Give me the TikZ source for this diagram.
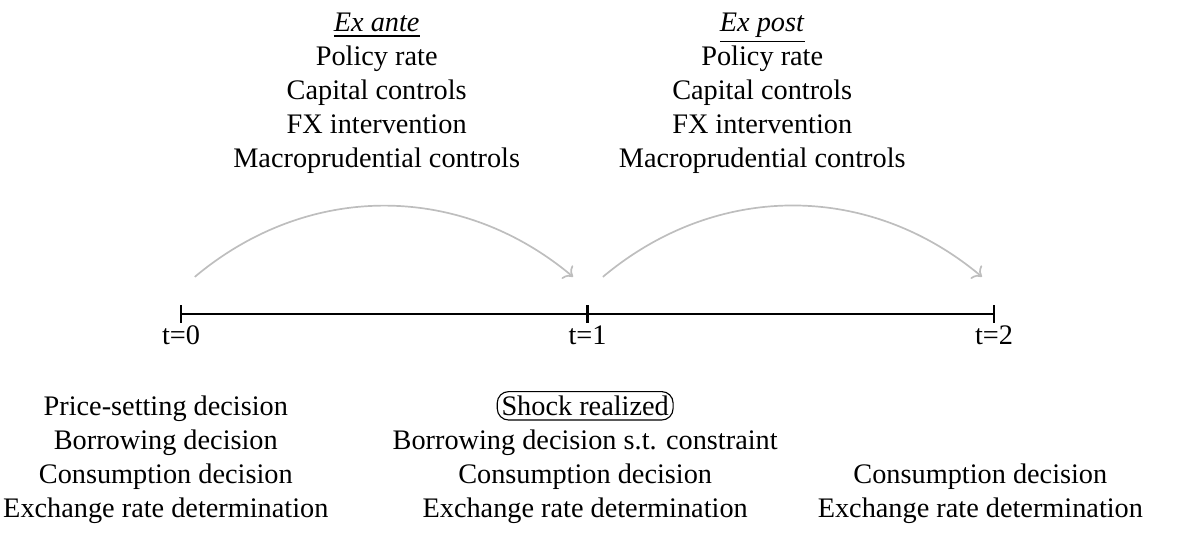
\documentclass[tikz,border=0pt]{standalone}
\usepackage{fontspec}
\setmainfont{Liberation Serif}
\usetikzlibrary{arrows.meta,positioning}
\definecolor{timeDark}{RGB}{0,0,0}
\definecolor{timeArc}{RGB}{190,190,190}

\begin{document}
\begin{tikzpicture}[
  tick/.style={draw=timeDark, thick},
  timelabel/.style={below, inner sep=1pt, font=\normalsize},
  block/.style={align=center, inner sep=0pt, font=\normalsize},
  arc/.style={->, timeArc, line width=0.6pt},
  shockbox/.style={draw, rounded corners=4pt, inner sep=1.5pt, line width=0.4pt},
]

\def\dt{5.05}    % spacing between periods
\def\th{0.11}    % half height of tick
\def\ah{0.46}    % height of arc end points

\useasboundingbox (-2.25,-2.77) rectangle (12.41,3.90);

% ─── timeline ──────────────────────────────────────────────────
\foreach \i in {0,1,2}{
  \coordinate (p\i) at ({\i*\dt},0);
  \draw[tick] ({\i*\dt},-\th) -- ({\i*\dt},\th);
  \node[timelabel] (t\i) at ({\i*\dt},-\th) {t=\i};
}
\draw[tick] (p0) -- (p2);

% ─── policy blocks (above) ─────────────────────────────────────
\node[block] (exante) at (2.43,2.74) {%
  \underline{\textit{Ex ante}}\\ Policy rate\\ Capital controls\\
  FX intervention\\ Macroprudential controls};
\node[block] (expost) at (7.22,2.74) {%
  \underline{\textit{Ex post}}\\ Policy rate\\ Capital controls\\
  FX intervention\\ Macroprudential controls};

% ─── arcs between periods ──────────────────────────────────────
\coordinate (a0) at (0.17,\ah);
\coordinate (a1) at (4.87,\ah);
\coordinate (b0) at (5.24,\ah);
\coordinate (b1) at (9.95,\ah);
\draw[arc] (a0) to[bend left=40] (a1);
\draw[arc] (b0) to[bend left=40] (b1);

% ─── agent blocks (below) ──────────────────────────────────────
\node[block, anchor=south] (dec0) at (-0.19,-2.61) {%
  Price-setting decision\\ Borrowing decision\\
  Consumption decision\\ Exchange rate determination};
\node[block, anchor=south] (dec1) at (5.02,-2.61) {%
  \tikz[baseline=(s.base)]\node[shockbox] (s) {Shock realized};\\
  Borrowing decision s.t. constraint\\
  Consumption decision\\ Exchange rate determination};
\node[block, anchor=south] (dec2) at (9.93,-2.61) {%
  Consumption decision\\ Exchange rate determination};

\end{tikzpicture}
\end{document}
